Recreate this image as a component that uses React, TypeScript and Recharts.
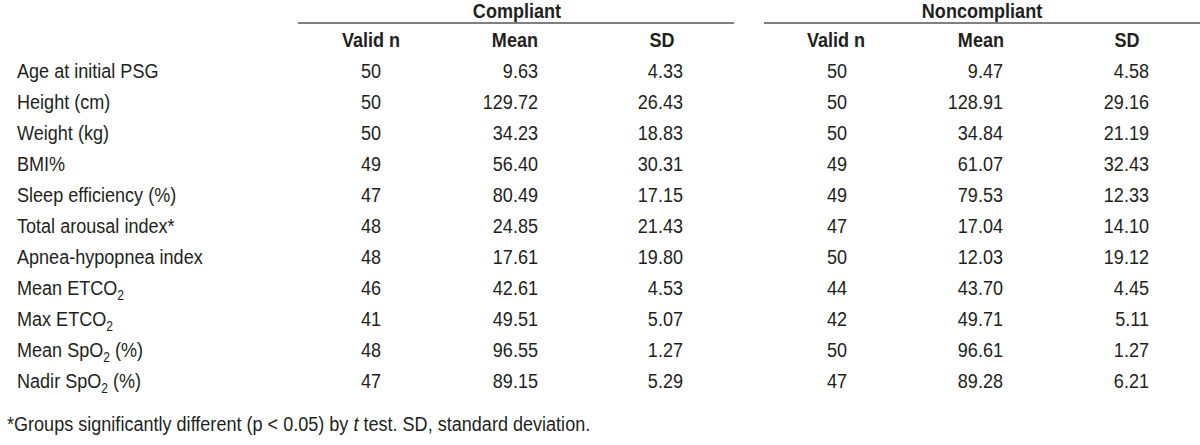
import React from 'react';
import { ComposedChart, Scatter, XAxis, YAxis, Label } from 'recharts';

// row labels, "_2" marks a subscript 2
const ROW_LABELS = [
  'Age at initial PSG',
  'Height (cm)',
  'Weight (kg)',
  'BMI%',
  'Sleep efficiency (%)',
  'Total arousal index*',
  'Apnea-hypopnea index',
  'Mean ETCO_2',
  'Max ETCO_2',
  'Mean SpO_2 (%)',
  'Nadir SpO_2 (%)',
];

const COMPLIANT_N = [50, 50, 50, 49, 47, 48, 48, 46, 41, 48, 47];
const COMPLIANT_MEAN = [9.63, 129.72, 34.23, 56.4, 80.49, 24.85, 17.61, 42.61, 49.51, 96.55, 89.15];
const COMPLIANT_SD = [4.33, 26.43, 18.83, 30.31, 17.15, 21.43, 19.8, 4.53, 5.07, 1.27, 5.29];

const NONCOMPLIANT_N = [50, 50, 50, 49, 49, 47, 50, 44, 42, 50, 47];
const NONCOMPLIANT_MEAN = [9.47, 128.91, 34.84, 61.07, 79.53, 17.04, 12.03, 43.7, 49.71, 96.61, 89.28];
const NONCOMPLIANT_SD = [4.58, 29.16, 21.19, 32.43, 12.33, 14.1, 19.12, 4.45, 5.11, 1.27, 6.21];

const GROUP_NAMES = ['Compliant', 'Noncompliant'];
const COLUMN_NAMES = ['Valid n', 'Mean', 'SD', 'Valid n', 'Mean', 'SD'];

const FOOTNOTE_BEFORE = '*Groups significantly different (p < 0.05) by ';
const FOOTNOTE_ITALIC = 't';
const FOOTNOTE_AFTER = ' test. SD, standard deviation.';

// layout (x axis runs 0..1200 in pixels)
const FONT = "'Liberation Sans', Arial, sans-serif";
const FONT_SIZE = 21;
const SQUEEZE = 0.86; // condensed look
const INK = '#231f20';
const RULE = '#555555';
const LABEL_X = 17;
const FOOT_X = 7;

const COLUMNS = [
  { values: COMPLIANT_N, digits: 0, x: 371, anchor: 'middle', hx: 371, hAnchor: 'middle' },
  { values: COMPLIANT_MEAN, digits: 2, x: 538, anchor: 'end', hx: 538, hAnchor: 'end' },
  { values: COMPLIANT_SD, digits: 2, x: 683, anchor: 'end', hx: 662, hAnchor: 'middle' },
  { values: NONCOMPLIANT_N, digits: 0, x: 837, anchor: 'middle', hx: 836, hAnchor: 'middle' },
  { values: NONCOMPLIANT_MEAN, digits: 2, x: 1003, anchor: 'end', hx: 1004, hAnchor: 'end' },
  { values: NONCOMPLIANT_SD, digits: 2, x: 1149, anchor: 'end', hx: 1127, hAnchor: 'middle' },
];

const GROUPS = [
  { center: 517, from: 298, to: 734 },
  { center: 982, from: 764, to: 1200 },
];

const rowData = ROW_LABELS.map((label) => ({ label }));

function SText({ x, y, anchor = 'start', bold = false, children }: any) {
  return (
    <g transform={`translate(${x},${y}) scale(${SQUEEZE},1)`}>
      <text
        x={0}
        y={0}
        textAnchor={anchor}
        fontFamily={FONT}
        fontSize={FONT_SIZE}
        fontWeight={bold ? 'bold' : 'normal'}
        fill={INK}
      >
        {children}
      </text>
    </g>
  );
}

function renderLabel(label: string) {
  const parts = label.split('_2');
  if (parts.length === 1) return label;
  return (
    <>
      {parts[0]}
      <tspan fontSize={14} dy={5}>2</tspan>
      <tspan dy={-5}>{parts[1]}</tspan>
    </>
  );
}

function RowTick(props: any) {
  const { y, payload } = props;
  return (
    <SText x={LABEL_X} y={y + 7.5}>
      {renderLabel(String(payload.value))}
    </SText>
  );
}

function HeaderTick(props: any) {
  const { x, y, payload } = props;
  const gi = GROUPS.findIndex((g) => g.center === payload.value);
  if (gi >= 0) {
    const g = GROUPS[gi];
    return (
      <g>
        <SText x={x} y={y - 37} anchor="middle" bold>
          {GROUP_NAMES[gi]}
        </SText>
        <line
          x1={x + (g.from - g.center)}
          x2={x + (g.to - g.center)}
          y1={y - 32}
          y2={y - 32}
          stroke={RULE}
          strokeWidth={1.5}
        />
      </g>
    );
  }
  const idx = COLUMNS.findIndex((c) => c.hx === payload.value);
  if (idx < 0) return null;
  return (
    <SText x={x} y={y - 8} anchor={COLUMNS[idx].hAnchor} bold>
      {COLUMN_NAMES[idx]}
    </SText>
  );
}

function Footnote(props: any) {
  const { viewBox } = props;
  return (
    <SText x={viewBox.x + FOOT_X} y={viewBox.y + 35}>
      {FOOTNOTE_BEFORE}
      <tspan fontStyle="italic">{FOOTNOTE_ITALIC}</tspan>
      {FOOTNOTE_AFTER}
    </SText>
  );
}

function makeCell(anchor: string) {
  return (props: any) => {
    const { cx, cy, payload } = props;
    return (
      <SText x={cx} y={cy + 7.5} anchor={anchor}>
        {payload.text}
      </SText>
    );
  };
}

export default function App() {
  return (
    <div style={{ width: 1200, height: 445, background: '#fff' }}>
      <style>{'body{margin:0;background:#fff}'}</style>
      <ComposedChart width={1200} height={445} data={rowData} margin={{ top: 0, right: 0, bottom: 0, left: -1 }}>
        <XAxis
          xAxisId="col"
          orientation="top"
          type="number"
          dataKey="pos"
          domain={[0, 1200]}
          allowDataOverflow
          height={55}
          ticks={[...COLUMNS.map((c) => c.hx), ...GROUPS.map((g) => g.center)]}
          interval={0}
          tick={<HeaderTick />}
          tickLine={false}
          axisLine={false}
          tickSize={0}
          tickMargin={0}
        />
        <XAxis
          xAxisId="foot"
          orientation="bottom"
          type="number"
          domain={[0, 1200]}
          allowDataOverflow
          height={49}
          tick={false}
          tickLine={false}
          axisLine={false}
        >
          <Label content={<Footnote />} />
        </XAxis>
        <YAxis
          type="category"
          dataKey="label"
          scale="band"
          reversed
          allowDuplicatedCategory={false}
          width={1}
          interval={0}
          tick={<RowTick />}
          tickLine={false}
          axisLine={false}
        />
        {COLUMNS.map((col, ci) => (
          <Scatter
            key={ci}
            xAxisId="col"
            data={ROW_LABELS.map((label, i) => ({
              label,
              pos: col.x,
              text: col.values[i].toFixed(col.digits),
            }))}
            shape={makeCell(col.anchor)}
            isAnimationActive={false}
          />
        ))}
      </ComposedChart>
    </div>
  );
}
